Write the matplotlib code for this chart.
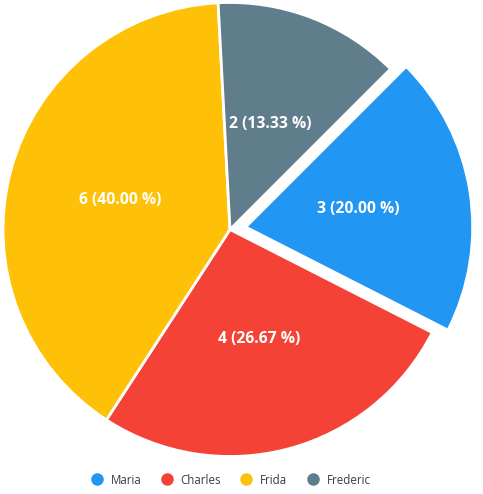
import matplotlib
matplotlib.use("Agg")
import matplotlib.pyplot as plt
from matplotlib.lines import Line2D

# data
names = ["Maria", "Charles", "Frida", "Frederic"]
values = [3, 4, 6, 2]
colors = ["#2196F3", "#F44336", "#FFC107", "#607D8B"]
explode = [0.07, 0, 0, 0]

plt.rcParams["font.family"] = ["Open Sans", "DejaVu Sans"]

W, H = 483, 494
cx, cy, r = 230, 229.5, 227   # pie centre / radius in pixels

fig = plt.figure(figsize=(W / 100, H / 100), dpi=100)
ax = fig.add_axes([0, 0, 1, 1])

total = sum(values)
wedges, texts, autotexts = ax.pie(
    values,
    colors=colors,
    explode=explode,
    startangle=45,
    counterclock=False,
    radius=1,
    autopct=lambda p: "%d (%.2f %%)" % (round(p * total / 100), p),
    pctdistance=0.5,
    wedgeprops=dict(edgecolor="white", linewidth=2),
    textprops=dict(color="white", fontsize=11.3, fontweight="bold"),
)

ax.set_xlim(-cx / r, (W - cx) / r)
ax.set_ylim(-(H - cy) / r, cy / r)
ax.set_aspect("auto")
ax.axis("off")

handles = [Line2D([], [], marker="o", linestyle="", markersize=8,
                  markerfacecolor=c, markeredgecolor=c) for c in colors]
fig.legend(handles, names, loc="center", bbox_to_anchor=(0.472, 14 / H),
           ncol=4, frameon=False, fontsize=8.3, handletextpad=0.2,
           columnspacing=1.2, labelcolor="#373d3f")

plt.savefig("out.png", dpi=100)
plt.close()
